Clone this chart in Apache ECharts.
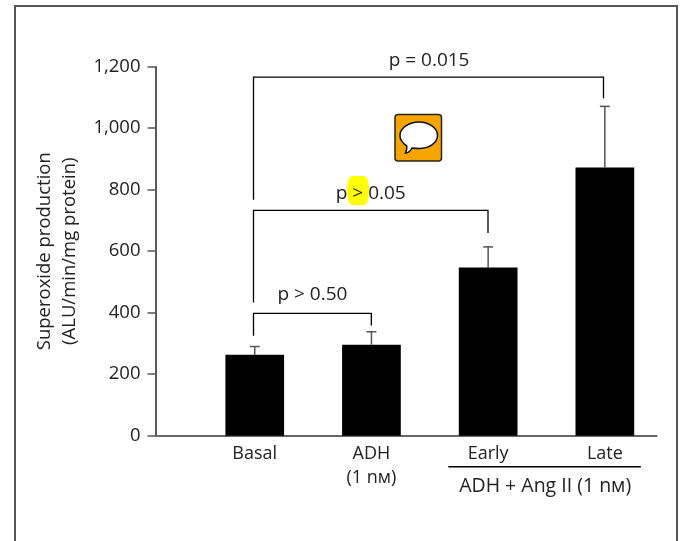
<!DOCTYPE html>
<html><head><meta charset="utf-8">
<style>html,body{margin:0;padding:0;background:#fff}#c{width:680px;height:541px}</style>
<script src="https://cdn.jsdelivr.net/npm/echarts@6/dist/echarts.min.js"></script>
</head><body><div id="c"></div>
<script>
const categories = ['Basal', 'ADH\n(1 nм)', 'Early', 'Late'];
const means = [263, 296, 547, 872];
const errorTops = [290, 338, 614, 1071];
const yTicks = [0, 200, 400, 600, 800, 1000, 1200];
const yTitle = 'Superoxide production\n(ALU/min/mg protein)';
// [from category, to category, left end value, bracket value, right end value]
const brackets = [
  [-0.01, 1.0, 325, 398, 358],
  [-0.01, 2.0, 433, 733, 659],
  [-0.01, 2.99, 767, 1166, 1097]
];
// [text, category position, value]
const pLabels = [
  ['p > 0.50', 0.495, 459],
  ['p > 0.05', 0.995, 788],
  ['p = 0.015', 1.495, 1221]
];
const groupRule = [1.66, 3.31, -101];
const groupLabel = ['ADH + Ang II (1 nм)', 2.49, -165];

const FONT = '"Open Sans"';
const INK = '#222';
const chart = echarts.init(document.getElementById('c'), null, {renderer: 'canvas'});

function lineEl(p1, p2, color, w) {
  return {type: 'line', shape: {x1: p1[0], y1: p1[1], x2: p2[0], y2: p2[1]},
          style: {stroke: color, lineWidth: w, fill: null}};
}

chart.setOption({
  animation: false,
  backgroundColor: '#fff',
  grid: [
    {left: 155.5, top: 66.7, width: 501.2, height: 369},
    {left: 196.4, top: 66.7, width: 466.8, height: 369}
  ],
  xAxis: [
    {type: 'value', gridIndex: 0, min: -0.85, max: 3.446, interval: 5,
     axisLine: {show: true, onZero: false, lineStyle: {color: '#666', width: 2}},
     axisTick: {show: false}, axisLabel: {show: false}, splitLine: {show: false}},
    {type: 'category', gridIndex: 1, data: categories,
     axisLine: {show: false}, axisTick: {show: false},
     axisLabel: {margin: 6, fontFamily: FONT, fontSize: 18, color: INK, lineHeight: 24, interval: 0},
     splitLine: {show: false}}
  ],
  yAxis: [
    {type: 'value', gridIndex: 0, min: 0, max: 1200, interval: 200,
     name: yTitle, nameLocation: 'middle', nameRotate: 90, nameGap: 72,
     nameTextStyle: {fontFamily: FONT, fontSize: 18.5, color: INK, lineHeight: 25},
     axisLine: {show: true, onZero: false, lineStyle: {color: '#222', width: 1.5}},
     axisTick: {show: true, length: 8, lineStyle: {color: '#555', width: 1.5}},
     axisLabel: {margin: 15, fontFamily: FONT, fontSize: 18.5, color: INK, padding: [4, 0, 0, 0],
       formatter: v => yTicks.includes(v) ? v.toLocaleString('en-US') : ''},
     splitLine: {show: false}},
    {type: 'value', gridIndex: 1, min: 0, max: 1200, interval: 200, show: false}
  ],
  graphic: [
    {type: 'rect', z: 0, shape: {x: 15, y: 6, width: 662, height: 560},
     style: {fill: 'none', stroke: '#555', lineWidth: 2}},
    {type: 'rect', z: 5, shape: {x: 395, y: 114.5, width: 46.5, height: 46.5, r: 3},
     style: {fill: '#f5a500', stroke: '#2a2418', lineWidth: 1.5}}
  ],
  series: [
    {type: 'custom', coordinateSystem: 'none', z: 1, silent: true, data: [0],
     renderItem() {
       return {type: 'path', shape: {x: 346.5, y: 176, width: 23, height: 29, pathData:
         'M353 176 L363 176 Q367 176 368 181 Q370 190 368 199 Q367 205 363 205 L353 205 Q349 205 348 199 Q346 190 348 181 Q349 176 353 176 Z'},
         style: {fill: '#ffff00', stroke: null}};
     }},
    {type: 'custom', coordinateSystem: 'none', z: 6, silent: true, data: [0],
     renderItem() {
       return {type: 'path', z2: 100, shape: {x: 400, y: 122, width: 37.5, height: 31, pathData:
         'M419 122 C429 122 437.5 128 437.5 135.5 C437.5 143 429 148.5 419 148.5 C416 148.5 414 148.3 412 148 C410.5 151 408 152.8 405.5 153 C406.5 151 407 148.5 406.8 146 C403 143.5 400 139.8 400 135.5 C400 128 409 122 419 122 Z'},
         style: {fill: '#fff', stroke: '#111', lineWidth: 1.5}};
     }},
    {type: 'bar', xAxisIndex: 1, yAxisIndex: 1, data: means, barWidth: 58.7,
     itemStyle: {color: '#000'}, z: 3},
    {type: 'custom', xAxisIndex: 1, yAxisIndex: 1, z: 2, clip: false,
     data: errorTops.map((v, i) => [i, means[i], v]),
     encode: {x: 0, y: [1, 2]},
     renderItem(params, api) {
       const top = api.coord([api.value(0), api.value(2)]);
       const base = api.coord([api.value(0), api.value(1)]);
       return {type: 'group', children: [
         lineEl(base, top, '#555', 1.5),
         lineEl([top[0] - 5, top[1]], [top[0] + 5, top[1]], '#555', 1.5)
       ]};
     }},
    {type: 'custom', xAxisIndex: 0, yAxisIndex: 0, z: 4, clip: false,
     data: brackets,
     encode: {x: [0, 1], y: [2, 3, 4]},
     renderItem(params, api) {
       const a = api.coord([api.value(0), api.value(2)]);
       const b = api.coord([api.value(0), api.value(3)]);
       const c = api.coord([api.value(1), api.value(3)]);
       const d = api.coord([api.value(1), api.value(4)]);
       return {type: 'polyline', shape: {points: [a, b, c, d]},
               style: {stroke: '#000', lineWidth: 1.3, fill: null}};
     }},
    {type: 'custom', xAxisIndex: 0, yAxisIndex: 0, z: 4, clip: false,
     data: pLabels.map(r => [r[1], r[2]]).concat([[groupLabel[1], groupLabel[2]]]),
     encode: {x: 0, y: 1},
     renderItem(params, api) {
       const p = api.coord([api.value(0), api.value(1)]);
       const isGroup = params.dataIndex === pLabels.length;
       return {type: 'text', x: p[0], y: p[1],
               style: {text: pLabels.concat([groupLabel])[params.dataIndex][0],
                       font: (isGroup ? '19.5px ' : '19px ') + FONT, fill: INK, align: 'center', verticalAlign: 'middle'}};
     }},
    {type: 'custom', xAxisIndex: 0, yAxisIndex: 0, z: 4, clip: false,
     data: [groupRule],
     encode: {x: [0, 1], y: 2},
     renderItem(params, api) {
       const a = api.coord([api.value(0), api.value(2)]);
       const b = api.coord([api.value(1), api.value(2)]);
       return lineEl(a, b, '#000', 1.3);
     }}
  ]
});
</script></body></html>
